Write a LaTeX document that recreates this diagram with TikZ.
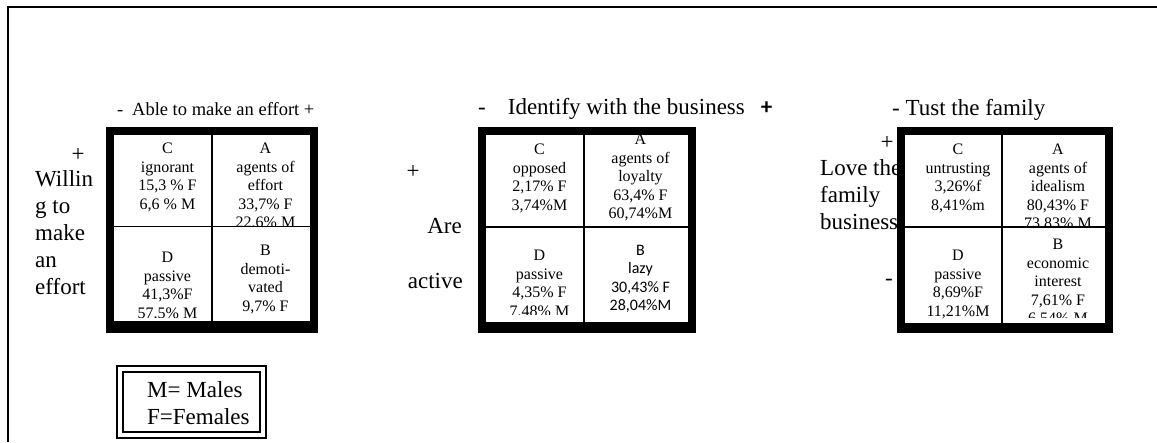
\documentclass[tikz,border=0pt]{standalone}
\usepackage{fontspec}
\setmainfont{Liberation Serif}
\newfontfamily\cellsans{Carlito}
\usetikzlibrary{positioning}

\newcommand{\quadcell}[8][]{%
  \begin{scope}
    \clip (#3,#4) rectangle (#5,#6);
    \node[celltext,#1] (#2) at ({(#3+#5)/2},#7) {#8};
  \end{scope}}

\begin{document}
\begin{tikzpicture}[
    x=1pt, y=-1pt,
    celltext/.style={anchor=north, inner sep=0pt, align=center, xshift=4.5pt,
      font=\fontsize{16}{18.5}\selectfont},
    sanscell/.style={font=\fontsize{16}{18.5}\cellsans},
    biglbl/.style={inner sep=0pt, font=\fontsize{23}{27}\selectfont},
    qbox/.style={draw, line width=8pt},
    qdiv/.style={line width=1.5pt},
    legframe/.style={draw, line width=2pt, double, double distance=4pt}
]
\useasboundingbox (0,0) rectangle (1157,442);
\draw[line width=2pt] (8,442) |- (1157,7);

\node[biglbl] (plusA) at (78,155) {+};
\node[biglbl, align=left, anchor=north west] (willing) at (35,170) {Willin\\g to\\make\\an\\effort};
\node[biglbl] (plusB) at (413,172) {+};
\node[biglbl, anchor=base east] (are) at (462,233) {Are};
\node[biglbl, anchor=base east] (active) at (463,288) {active};
\node[biglbl, align=left, anchor=north west] (love) at (820,159) {Love the\\family\\business};
\node[biglbl] (plusC) at (887,143) {+};
\node[biglbl] (minusC) at (889,282) {-};

\fill[white] (110,131) rectangle (314,329);
\fill[white] (482,131) rectangle (692,329);
\fill[white] (901,131) rectangle (1109,329);

\quadcell{effC}{114}{135}{212}{226.5}{143}{C\\ignorant\\15,3 \% F\\6,6 \% M}
\quadcell{effA}{212}{135}{310}{226.5}{143}{A\\agents of\\effort\\33,7\% F\\22,6\% M}
\quadcell{effD}{114}{226.5}{212}{317}{252}{D\\passive\\41,3\%F\\57,5\% M}
\quadcell{effB}{212}{226.5}{310}{317}{245}{B\\demoti-\\vated\\9,7\% F}

\quadcell{loyC}{486}{135}{584}{227}{144}{C\\opposed\\2,17\% F\\3,74\%M}
\quadcell{loyA}{584}{135}{688}{227}{134}{A\\agents of\\loyalty\\63,4\% F\\60,74\%M}
\quadcell{loyD}{486}{227}{584}{314.5}{250}{D\\passive\\4,35\% F\\7,48\% M}
\quadcell[sanscell]{loyB}{584}{227}{688}{317}{245}{B\\lazy\\30,43\% F\\28,04\%M}

\quadcell{idlC}{905}{135}{1002}{227}{144}{C\\untrusting\\3,26\%f\\8,41\%m}
\quadcell{idlA}{1002}{135}{1105}{227}{144}{A\\agents of\\idealism\\80,43\% F\\73,83\% M}
\quadcell{idlD}{905}{227}{1002}{318}{250}{D\\passive\\8,69\%F\\11,21\%M}
\quadcell{idlB}{1002}{227}{1105}{317}{239}{B\\economic\\interest\\7,61\% F\\6,54\% M}

\draw[qdiv] (212,131) -- (212,329);
\draw[qdiv] (110,226.5) -- (314,226.5);
\draw[qbox] (110,131) rectangle (314,329);
\fill (106,321) rectangle (318,333);
\draw[qdiv] (584,131) -- (584,329);
\draw[qdiv] (482,227) -- (692,227);
\draw[qbox] (482,131) rectangle (692,329);
\fill (478,322) rectangle (696,333);
\draw[qdiv] (1002,131) -- (1002,329);
\draw[qdiv] (901,227) -- (1109,227);
\draw[qbox] (901,131) rectangle (1109,329);
\fill (897,323) rectangle (1113,333);

\node[inner sep=0pt, anchor=base west, font=\fontsize{18.5}{22}\selectfont] (effort) at (117,115)
  {-\hspace{8.8pt}Able to make an effort +};
\node[biglbl, anchor=base west] (identify) at (478,114)
  {-\hspace{22pt}Identify with the business\hspace{16pt}{\cellsans\bfseries +}};
\node[biglbl, anchor=base west] (trust) at (892,115) {- Tust the family};

\draw[legframe] (120,368.5) rectangle (262.5,435);
\node[biglbl, align=left, anchor=north west] (legend) at (147,381) {M= Males\\F=Females};
\end{tikzpicture}
\end{document}
